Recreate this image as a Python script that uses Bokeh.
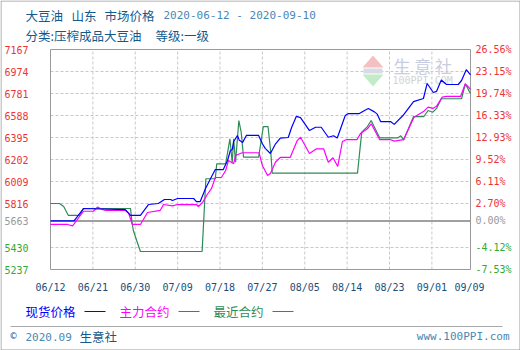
from bokeh.plotting import figure
from bokeh.models import Range1d
from bokeh.embed import file_html
from bokeh.resources import INLINE
from bokeh.core.properties import value

# ---------------- data ----------------
x_tick_days = [0, 9, 18, 27, 36, 45, 54, 63, 72, 81, 89]
x_tick_labels = ["06/12", "06/21", "06/30", "07/09", "07/18", "07/27",
                 "08/05", "08/14", "08/23", "09/01", "09/09"]
left_ticks = [7167, 6974, 6781, 6588, 6395, 6202, 6009, 5816, 5663, 5430, 5237]
left_labels = ["7167", "6974", "6781", "6588", "6395", "6202", "6009", "5816", "5663", "5430", "5237"]
right_labels = ["26.56%", "23.15%", "19.74%", "16.33%", "12.93%", "9.52%",
                "6.11%", "2.70%", "0.00%", "-4.12%", "-7.53%"]
base_price = 5663

# days since 2020-06-12
spot_day = [0, 5.0, 7.0, 15.9, 17.0, 19.1, 20.8, 22.9, 24.2, 25.5, 25.9, 27.0, 30.4, 31.0, 31.8,
            32.9, 34.0, 35.0, 36.7, 37.6, 38.2, 38.6, 38.9, 39.7, 40.1, 40.8, 41.6, 44.2, 45.0, 45.6,
            46.7, 47.8, 48.8, 50.5, 51.2, 52.2, 53.1, 55.0, 56.3, 57.5, 59.0, 60.1, 60.9, 62.6, 63.3,
            65.6, 66.7, 67.5, 68.8, 69.4, 70.1, 72.2, 73.0, 74.9, 77.1, 79.2, 80.0, 81.3, 82.0, 83.0,
            84.1, 86.6, 87.3, 88.3, 89.2]
spot_price = [5663, 5663, 5772, 5763, 5711, 5711, 5807, 5816, 5851, 5851, 5842, 5860, 5860, 5833, 5833,
              5945, 6035, 6114, 6114, 6193, 6281, 6290, 6360, 6413, 6370, 6352, 6413, 6413, 6340, 6300,
              6255, 6340, 6390, 6395, 6483, 6580, 6570, 6456, 6485, 6485, 6397, 6410, 6390, 6588, 6605,
              6605, 6632, 6649, 6620, 6600, 6535, 6535, 6510, 6590, 6710, 6737, 6869, 6790, 6800, 6900,
              6860, 6860, 6895, 6990, 6945]

main_day = [0, 3.6, 4.7, 7.0, 9.1, 10.0, 11.0, 11.7, 15.9, 16.6, 17.4, 19.1, 20.6, 23.3, 24.0,
            25.9, 27.0, 31.0, 31.4, 32.3, 33.3, 34.2, 35.0, 36.3, 37.2, 37.8, 38.9, 39.3, 40.7, 44.3,
            45.0, 46.1, 46.7, 47.8, 48.8, 50.9, 52.4, 53.1, 55.0, 56.5, 58.0, 59.0, 60.0, 61.0, 62.0,
            62.9, 65.1, 65.9, 67.3, 68.1, 69.9, 72.1, 73.0, 75.0, 77.2, 79.3, 80.2, 81.2, 82.0, 83.2,
            84.1, 87.1, 88.1, 88.8, 89.2]
main_price = [5632, 5632, 5620, 5748, 5748, 5785, 5763, 5755, 5755, 5730, 5632, 5632, 5737, 5755, 5807,
              5795, 5807, 5807, 5790, 5826, 5895, 5948, 6044, 6044, 6105, 6193, 6165, 6237, 6261, 6261,
              6149, 6062, 6080, 6180, 6220, 6220, 6368, 6397, 6255, 6296, 6296, 6178, 6217, 6141, 6360,
              6377, 6377, 6433, 6471, 6515, 6377, 6377, 6363, 6377, 6573, 6626, 6661, 6650, 6670, 6749,
              6755, 6755, 6866, 6836, 6816]

near_day = [0, 1.9, 2.8, 3.8, 6.2, 7.0, 17.0, 17.3, 17.6, 18.3, 19.1, 32.2, 33.0, 35.0, 35.3,
            37.2, 38.1, 38.6, 38.9, 39.3, 40.0, 40.5, 41.0, 44.2, 45.2, 46.2, 46.8, 47.1, 65.2, 66.1,
            67.3, 68.1, 69.9, 73.8, 74.4, 75.0, 77.1, 79.3, 80.2, 81.2, 82.0, 83.0, 87.3, 88.1, 89.2]
near_price = [5816, 5816, 5790, 5711, 5711, 5772, 5772, 5652, 5579, 5491, 5395, 5395, 6033, 6033, 6164,
              6164, 6383, 6175, 6383, 6178, 6544, 6442, 6222, 6222, 6491, 6491, 6255, 6082, 6082, 6442,
              6491, 6544, 6392, 6392, 6410, 6374, 6579, 6579, 6632, 6617, 6650, 6735, 6735, 6866, 6778]

series_names = ["现货价格", "主力合约", "最近合约"]

# ---------------- layout helpers ----------------
X0, X1 = 0, 89.2
Y0, Y1 = left_ticks[-1], left_ticks[0]
FL, FR, FT, FB = 50, 470, 49, 269  # chart area edges in page pixels
W, H = 520, 350

def dx(px):
    return X0 + (px - FL) / (FR - FL) * (X1 - X0)

def dy(py):
    return Y1 - (py - FT) / (FB - FT) * (Y1 - Y0)

CJK = "Noto Sans CJK SC"
MONO = "DejaVu Sans Mono"
RED, GREEN_T, GREY_T = "#ee3333", "#33aa33", "#999999"
C_SPOT, C_MAIN, C_NEAR = "#0000ff", "#ff00ff", "#2e8b57"
TB, TL = "#135a8c", "#4a87b5"

p = figure(width=W, height=H, output_backend="svg", toolbar_location=None,
           x_range=Range1d(dx(0), dx(W)), y_range=Range1d(dy(H), dy(0)),
           x_axis_location=None, y_axis_location=None, min_border=0)
p.background_fill_color = "white"
p.border_fill_color = "white"
p.outline_line_color = None
p.xgrid.visible = False
p.ygrid.visible = False

# outer border
p.quad(left=[dx(0.5)], right=[dx(W - 0.5)], top=[dy(0.5)], bottom=[dy(H - 0.5)],
       fill_color=None, line_color="#9a9a9a", line_width=1)

# grid
vx = x_tick_days[1:-1]
p.segment(x0=vx, x1=vx, y0=[Y0] * len(vx), y1=[Y1] * len(vx),
          line_color="#c8c8c8", line_dash="3 2", line_width=1)
hy = [t for t in left_ticks if t not in (Y0, Y1, base_price)]
p.segment(x0=[X0] * len(hy), x1=[X1] * len(hy), y0=hy, y1=hy,
          line_color="#c8c8c8", line_dash="3 2", line_width=1)

# watermark logo
p.patches(xs=[[dx(362), dx(383), dx(372.5)], [dx(362), dx(383), dx(372.5)]],
          ys=[[dy(67), dy(67), dy(55)], [dy(74), dy(74), dy(86)]],
          fill_color=["#f5c0c0", "#c4ebc8"], line_color=None)
p.quad(left=[dx(363)], right=[dx(382)], top=[dy(68)], bottom=[dy(73)], fill_color="#d8dbe6", line_color=None)
p.text(x=[dx(393)], y=[dy(65)], text=["生 意 社"], text_font=value(CJK), text_font_size="17px",
       text_color="#c9cde0", text_baseline="middle")
p.text(x=[dx(392)], y=[dy(80)], text=["100PPI.COM"], text_font=value(MONO), text_font_size="10px",
       text_color="#d2d2d2", text_baseline="middle")

# frame + zero line
p.quad(left=[X0], right=[X1], top=[Y1], bottom=[Y0], fill_color=None, line_color="#999999", line_width=1)
p.segment(x0=[X0], x1=[X1], y0=[base_price], y1=[base_price], line_color="#a0a0a0", line_width=2)

# series
p.line(near_day, near_price, line_color=C_NEAR, line_width=1.2)
p.line(main_day, main_price, line_color=C_MAIN, line_width=1.2)
p.line(spot_day, spot_price, line_color=C_SPOT, line_width=1.2)

# y tick labels
colors = [RED if t > base_price else (GREY_T if t == base_price else GREEN_T) for t in left_ticks]
p.text(x=[dx(28)] * len(left_ticks), y=left_ticks, text=left_labels, text_color=colors,
       text_align="right", text_baseline="middle", text_font=value(MONO), text_font_size="10px")
p.text(x=[dx(475)] * len(left_ticks), y=left_ticks, text=right_labels, text_color=colors,
       text_align="left", text_baseline="middle", text_font=value(MONO), text_font_size="10px")

# x tick labels
p.text(x=x_tick_days, y=[dy(287)] * len(x_tick_days), text=x_tick_labels, text_color="#1c4e7a",
       text_align="center", text_baseline="middle", text_font=value(MONO), text_font_size="10px")

def lab(text, px, py, color, size, font, align="left"):
    p.text(x=[dx(px)], y=[dy(py)], text=[text], text_color=color, text_font_size=size,
           text_font=value(font), text_align=align, text_baseline="middle")

def hline(px0, px1, py, color):
    p.segment(x0=[dx(px0)], x1=[dx(px1)], y0=[dy(py)], y1=[dy(py)], line_color=color, line_width=1)

lab("大豆油", 25, 15, TB, "12.5px", CJK)
lab("山东", 71, 15, TB, "12.5px", CJK)
lab("市场价格", 104, 15, TB, "12.5px", CJK)
lab("2020-06-12 - 2020-09-10", 163, 15, TL, "11px", MONO)
lab("分类:压榨成品大豆油", 25, 35, TB, "12.5px", CJK)
lab("等级:一级", 155, 35, TB, "12.5px", CJK)

lab(series_names[0], 25, 311, C_SPOT, "12.5px", CJK)
hline(84, 105, 311, C_SPOT)
lab(series_names[1], 119, 311, C_MAIN, "12.5px", CJK)
hline(178, 199, 311, C_MAIN)
lab(series_names[2], 213, 311, C_NEAR, "12.5px", CJK)
hline(272, 293, 311, C_NEAR)

hline(10, 502, 326, "#aaaaaa")
lab("©", 10, 335, TB, "10px", MONO)
lab("2020.09", 25, 336, TL, "11px", MONO)
lab("生意社", 79, 336, TB, "12.5px", CJK)
lab("www.100PPI.com", 509, 336, TL, "11px", MONO, align="right")

open("out.html", "w").write(file_html(p, INLINE))
